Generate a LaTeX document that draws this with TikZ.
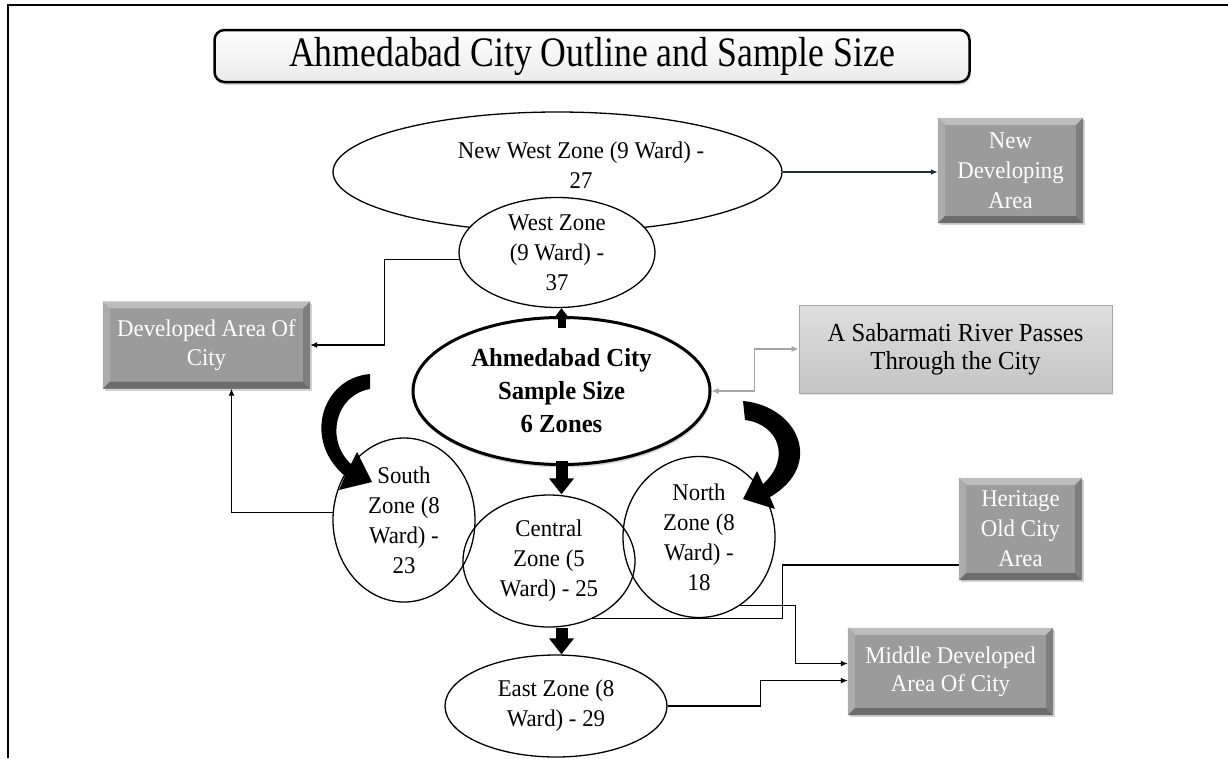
\documentclass[tikz,border=0pt]{standalone}
\usepackage{fontspec}
\setmainfont{Liberation Serif}[FakeStretch=0.95]
\newfontfamily\titlefont{Liberation Serif}[FakeStretch=0.85]
\usetikzlibrary{arrows.meta,shapes.geometric,shadows,calc}
\definecolor{bevmid}{HTML}{9B9B9B}
\definecolor{bevlight}{HTML}{BDBDBD}
\definecolor{bevlighttwo}{HTML}{ACACAC}
\definecolor{bevdark}{HTML}{6C6C6C}
\definecolor{bevdarktwo}{HTML}{7E7E7E}
\definecolor{navy}{HTML}{1F2A44}
\definecolor{rivgray}{HTML}{A6A6A6}
\definecolor{rivtop}{HTML}{DEDEDE}
\definecolor{rivbot}{HTML}{C4C4C4}
\definecolor{titlebot}{HTML}{EAEAEA}
\newcommand\bevelit[1]{%
 \fill[bevlight] (#1.north west) -- (#1.north east) -- ([shift={(-7pt,-7pt)}]#1.north east) -- ([shift={(7pt,-7pt)}]#1.north west) -- cycle;
 \fill[bevlighttwo] (#1.north west) -- ([shift={(7pt,-7pt)}]#1.north west) -- ([shift={(7pt,7pt)}]#1.south west) -- (#1.south west) -- cycle;
 \fill[bevdark] (#1.south west) -- ([shift={(7pt,7pt)}]#1.south west) -- ([shift={(-7pt,7pt)}]#1.south east) -- (#1.south east) -- cycle;
 \fill[bevdarktwo] (#1.south east) -- ([shift={(-7pt,7pt)}]#1.south east) -- ([shift={(-7pt,-7pt)}]#1.north east) -- (#1.north east) -- cycle;
}
\tikzset{
  zonetext/.style={font=\fontsize{24}{30}\selectfont, align=center, inner sep=0pt},
  zone/.style={ellipse, draw=black, line width=1.3pt, inner sep=0pt, zonetext},
  bevel/.style={rectangle, inner sep=0pt, fill=bevmid, text=white,
    font=\fontsize{24}{30}\selectfont, align=center,
    drop shadow={shadow xshift=2pt, shadow yshift=-2pt, opacity=0.35}},
  conn/.style={line width=1.2pt, -{Latex[length=7pt,width=6pt]}},
  plainconn/.style={line width=1.2pt},
  fatarrow/.style={line width=12pt, -{Triangle[length=16pt,width=24pt]}},
  smallfat/.style={line width=8pt, -{Triangle[length=11pt,width=16pt]}},
  crescent/.style={fill=black},
}
\begin{document}
\begin{tikzpicture}[x=1pt,y=-1pt]
\useasboundingbox (0,0) rectangle (1228,758);
% frame
\draw[line width=2.5pt] (8,758) -- (8,5) -- (1228,5);
% title
\node[rectangle, rounded corners=10pt, draw=black, line width=2.5pt,
  top color=white, bottom color=titlebot, minimum width=755pt, minimum height=52pt,
  inner sep=0pt, font=\titlefont\fontsize{42}{42}\selectfont,
  drop shadow={shadow xshift=1pt, shadow yshift=-3pt, opacity=0.3}]
  (title) at (592,56) {Ahmedabad City Outline and Sample Size};
% ellipses
\node[zone, fill=white, minimum width=449pt, minimum height=120pt] (nwz) at (557.5,172) {};
\node[zonetext] (nwzt) at (581,165) {New West Zone (9 Ward) -\\27};
\node[zone, fill=white, minimum width=196pt, minimum height=110pt] (wz) at (557,252.5)
  {West Zone\\(9 Ward) -\\37};
\node[ellipse, draw=black, line width=3pt, fill=white, inner sep=0pt,
  minimum width=297pt, minimum height=147pt,
  font=\fontsize{26}{33}\selectfont\bfseries, align=center,
  drop shadow={shadow xshift=1pt, shadow yshift=-3pt, opacity=0.35}]
  (cen) at (561.5,391) {Ahmedabad City\\Sample Size\\6 Zones};
\node[zone, minimum width=142pt, minimum height=164pt] (sz) at (404,520)
  {South\\Zone (8\\Ward) -\\23};
\node[zone, minimum width=152pt, minimum height=161pt] (nz) at (699,537)
  {North\\Zone (8\\Ward) -\\18};
\node[zone, minimum width=172pt, minimum height=132pt] (cz) at (549,561)
  {Central\\Zone (5\\Ward) - 25};
\node[zone, minimum width=222pt, minimum height=102pt] (ez) at (556,706)
  {East Zone (8\\Ward) - 29};
% boxes
\node[bevel, minimum width=145pt, minimum height=105pt] (nda) at (1010.5,170.5)
  {New\\Developing\\Area};
\node[bevel, minimum width=207pt, minimum height=87pt, font=\fontsize{24}{29}\selectfont]
  (dev) at (206.5,345) {Developed Area Of\\City};
\node[bevel, minimum width=123pt, minimum height=102pt] (her) at (1020.5,529)
  {Heritage\\Old City\\Area};
\node[bevel, minimum width=205pt, minimum height=87pt, font=\fontsize{24}{28}\selectfont]
  (mid) at (950.5,671.5) {Middle Developed\\Area Of City};
\bevelit{nda}\bevelit{dev}\bevelit{her}\bevelit{mid}
\node[rectangle, draw=rivgray, line width=0.8pt, top color=rivtop, bottom color=rivbot,
  minimum width=313pt, minimum height=88pt, inner sep=0pt, align=center,
  font=\fontsize{26}{28}\selectfont,
  drop shadow={shadow xshift=1pt, shadow yshift=-2pt, opacity=0.2}]
  (sab) at (955.5,349) {A Sabarmati River Passes\\Through the City};
% fat arrows
\draw[smallfat] ([yshift=-12pt]cen.north) -- (cen.north |- wz.south);
\draw[fatarrow] ([yshift=5pt]cen.south) -- (cen.south |- cz.north);
\draw[fatarrow] (cen.south |- cz.south) -- (cen.south |- ez.north);
% crescent arrows
\fill[crescent] (370,374) .. controls (322,378) and (302,440) .. (345,476)
  -- (339,490) -- (372,482) -- (357,452) -- (351,464)
  .. controls (325,440) and (335,395) .. (370,389) -- cycle;
\fill[crescent] (743,401) .. controls (798,406) and (825,465) .. (770,497)
  -- (775,509) -- (743,499) -- (757,471) -- (763,484)
  .. controls (792,458) and (778,424) .. (745,420) -- cycle;
% connectors
\draw[conn, navy, line width=1.6pt] (nwz.east) -- (nwz.east -| nda.west);
\draw[conn] (wz.184) -- ++(-75,0) |- (dev.east);
\draw[conn] (sz.174) -| ([xshift=25pt]dev.south);
\draw[line width=1.2pt, rivgray, {Latex[length=7pt,width=6pt]}-{Latex[length=7pt,width=6pt]}]
  (cen.east) -- ++(43,0) |- (sab.west);
\draw[plainconn] (cz.-53) -- ++(190,0) |- ([yshift=-36pt]her.west);
\draw[conn] (nz.-59) -- ++(55,0) |- ([yshift=8pt]mid.west);
\draw[conn] (ez.east) -- ++(93,0) |- ([yshift=-9pt]mid.west);
\end{tikzpicture}
\end{document}
